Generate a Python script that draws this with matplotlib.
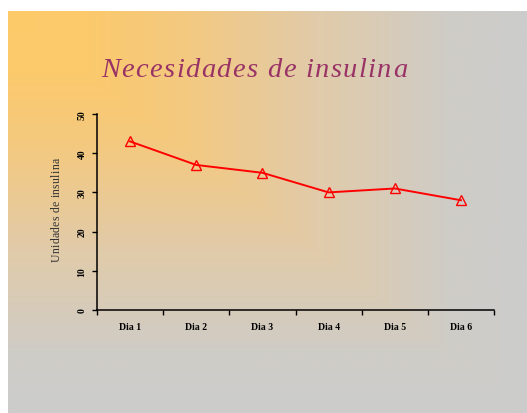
import matplotlib.pyplot as plt
import numpy as np
from matplotlib.colors import LinearSegmentedColormap

# Datos
dias = ['Dia 1', 'Dia 2', 'Dia 3', 'Dia 4', 'Dia 5', 'Dia 6']
unidades = [43, 37, 35, 30, 31, 28]
y_ticks = [0, 10, 20, 30, 40, 50]

W, H = 527, 414
fig = plt.figure(figsize=(W / 100, H / 100), dpi=100)
fig.patch.set_facecolor('white')

# Fondo degradado (esquina superior izquierda naranja -> gris)
bg = fig.add_axes([8 / W, 0, 1 - 8 / W, 1 - 12 / H])
bg.axis('off')
h, w = 200, 260
yy, xx = np.mgrid[0:h, 0:w]
t = np.maximum(xx / (w - 1), yy / (h - 1))
cmap = LinearSegmentedColormap.from_list('fondo', [
    (0.0, (253 / 255, 202 / 255, 105 / 255)),
    (0.15, (252 / 255, 202 / 255, 108 / 255)),
    (0.35, (243 / 255, 201 / 255, 130 / 255)),
    (0.6, (225 / 255, 203 / 255, 170 / 255)),
    (0.85, (207 / 255, 204 / 255, 198 / 255)),
    (1.0, (204 / 255, 204 / 255, 204 / 255)),
])
bg.imshow(t, cmap=cmap, aspect='auto', extent=[0, 1, 0, 1], vmin=0, vmax=1)
bg.set_xlim(0, 1)
bg.set_ylim(0, 1)

renderer = fig.canvas.get_renderer()


def ancho(s, **kw):
    # ancho en pixeles de un texto (sin espaciado extra)
    if not s:
        return 0.0
    tt = fig.text(0, 0, s, **kw)
    wd = tt.get_window_extent(renderer).width
    tt.remove()
    return wd


def texto_espaciado(s, cx, cy, total, vertical=False, **kw):
    # letras separadas para ocupar 'total' pixeles, centrado en (cx, cy) px
    pref = [ancho(s[:i], **kw) for i in range(len(s) + 1)]
    extra = (total - pref[-1]) / (len(s) - 1)
    for i, c in enumerate(s):
        if c == ' ':
            continue
        d = pref[i] + i * extra - total / 2
        if vertical:
            fig.text(cx / W, 1 - (cy - d) / H, c, rotation=90, ha='left',
                     va='center', rotation_mode='anchor', **kw)
        else:
            fig.text((cx + d) / W, 1 - cy / H, c, ha='left',
                     va='baseline', **kw)


# Titulo
texto_espaciado('Necesidades de insulina', 254, 77, 306,
                family='Liberation Serif', style='italic', fontsize=20.5,
                color='#993366')

# Grafico
ax = fig.add_axes([97 / W, 1 - 311 / H, 397 / W, 196 / H])
ax.patch.set_alpha(0)
x = np.arange(len(dias)) + 0.5
ax.plot(x, unidades, color='red', lw=1.4, marker='^', markersize=7,
        markerfacecolor='none', markeredgecolor='red', markeredgewidth=1)

ax.set_xlim(0, len(dias))
ax.set_ylim(0, 50)
ax.set_xticks(np.arange(len(dias) + 1))
ax.set_xticklabels([])
ax.set_xticks(x, minor=True)
ax.set_xticklabels(dias, minor=True, family='Liberation Serif',
                   fontweight='bold', fontsize=7)
ax.tick_params(axis='x', which='minor', length=0, pad=9)
ax.tick_params(axis='x', which='major', length=3.5, width=1)
ax.set_yticks(y_ticks)
ax.set_yticklabels([str(v) for v in y_ticks], family='Liberation Serif',
                   fontweight='bold', fontsize=7, rotation=90, va='center')
ax.tick_params(axis='y', length=3.5, width=1, pad=4)

for s in ['top', 'right']:
    ax.spines[s].set_visible(False)
for s in ['left', 'bottom']:
    ax.spines[s].set_linewidth(1.1)

# Etiqueta del eje Y (vertical, con letras espaciadas)
texto_espaciado('Unidades de insulina', 57, 210, 104, vertical=True,
                family='Liberation Serif', fontsize=8.5, color='#333333')

plt.savefig('out.png', dpi=100)
